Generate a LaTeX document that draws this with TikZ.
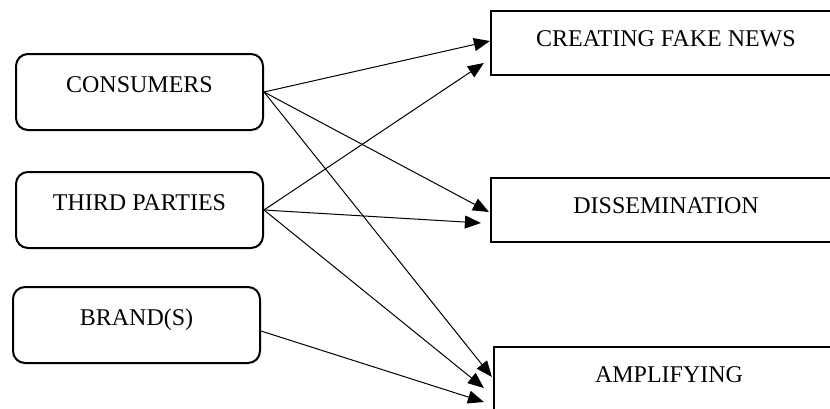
\documentclass[tikz,border=0pt]{standalone}
\usepackage{fontspec}
\setmainfont{Liberation Serif}
\usetikzlibrary{arrows.meta,calc}
\begin{document}
\begin{tikzpicture}[x=0.5pt,y=-0.5pt,>={Triangle[length=8pt,width=6.5pt]}]
\useasboundingbox (0,0) rectangle (830,408);
\clip (0,0) rectangle (830,408);
 \begin{scope}[every node/.style={draw, line width=1pt, rounded corners=6pt, minimum width=123.5pt, inner sep=0pt, text height=19pt, text depth=19pt, font=\fontsize{12}{14}\selectfont}]
  \node (cons) at (139.5,92) {CONSUMERS};
  \node (third) at (139.5,210) {THIRD PARTIES};
  \node (brand) at (136.5,325) {BRAND(S)};
 \end{scope}
 \begin{scope}[every node/.style={draw, line width=1.1pt, minimum width=175pt, inner sep=0pt, text height=17.5pt, text depth=14.5pt, font=\fontsize{12}{14}\selectfont}]
  \node (fake) at (666,43) {CREATING FAKE NEWS};
  \node (diss) at (666,210) {DISSEMINATION};
  \node (amp) at (669,379) {AMPLIFYING};
 \end{scope}
  \path [->, line width=0.5pt] (cons.east) edge ($(fake.west)+(0,-2)$);
  \path [->, line width=0.5pt] (cons.east) edge ($(diss.west)+(-1,2)$);
  \path [->, line width=0.5pt] (cons.east) edge ($(amp.west)+(-1,-2)$);
  \path [->, line width=0.5pt] (third.east) edge ($(fake.west)+(-6,20)$);
  \path [->, line width=0.5pt] (third.east) edge ($(diss.west)+(-9,13)$);
  \path [->, line width=0.5pt] (third.east) edge ($(amp.west)+(-9,9)$);
  \path [->, line width=0.5pt] ($(brand.east)+(0,6)$) edge ($(amp.west)+(-9,23)$);
\end{tikzpicture}
\end{document}
